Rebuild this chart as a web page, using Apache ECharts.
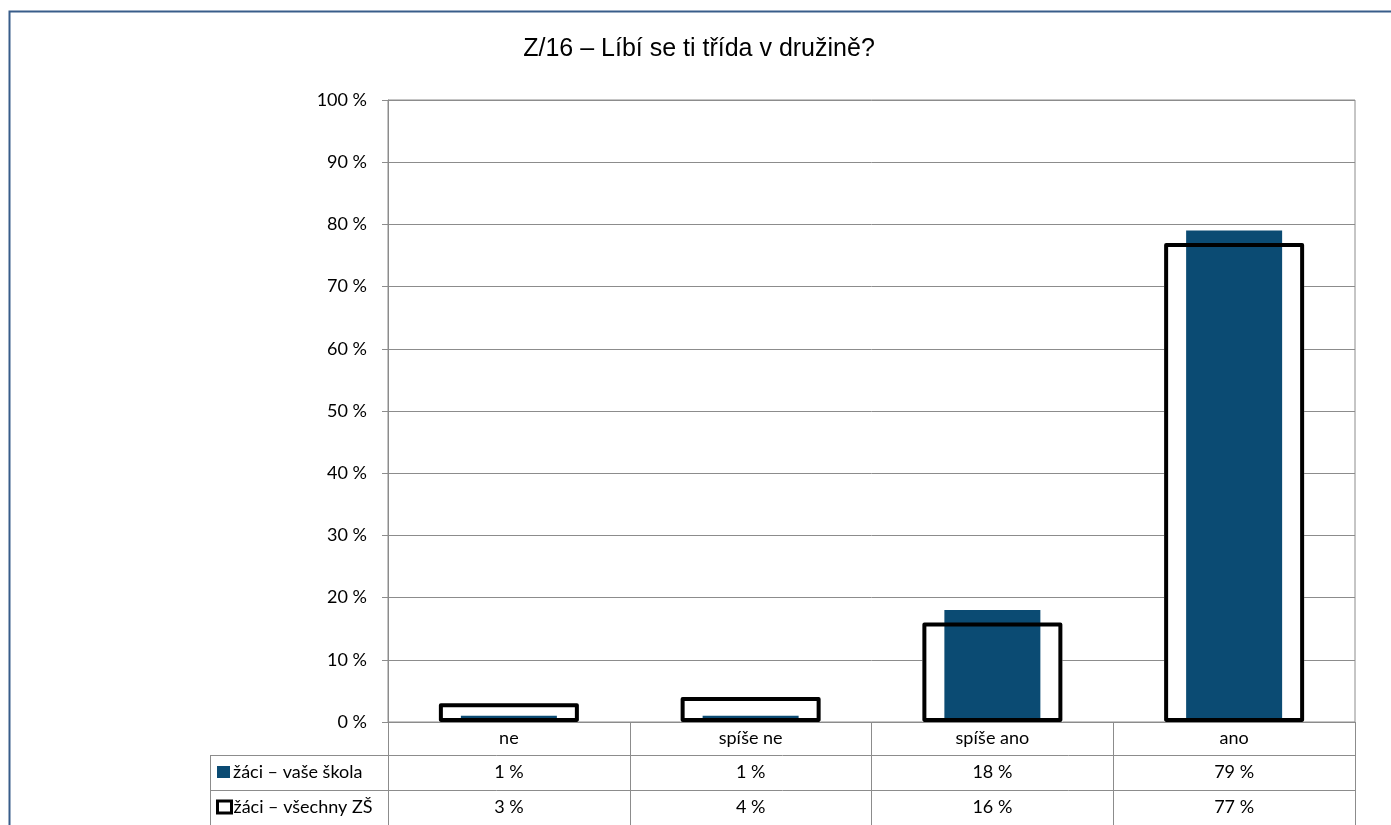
<!DOCTYPE html>
<html>
<head>
<meta charset="utf-8">
<title>Z/16 – Líbí se ti třída v družině?</title>
<script src="https://cdn.jsdelivr.net/npm/echarts@6/dist/echarts.min.js"></script>
<style>
  html, body { margin: 0; padding: 0; background: #fff; }
  #chart { width: 1391px; height: 825px; }
</style>
</head>
<body>
<div id="chart"></div>
<script>
// Survey answers and shares (%)
const categories = ['ne', 'spíše ne', 'spíše ano', 'ano'];
const schoolName = 'žáci – vaše škola';
const allName = 'žáci – všechny ZŠ';
const schoolValues = [1, 1, 18, 79];
const allValues = [3, 4, 16, 77];
const titleText = 'Z/16 – Líbí se ti třída v družině?';

const BLUE = '#0b4b73';
const GRID = '#8c8c8c';
const FONT = 'Lato, "Open Sans", sans-serif';
const FS = 18;

const chart = echarts.init(document.getElementById('chart'), null, { renderer: 'canvas' });

const option = {
  animation: false,
  backgroundColor: '#ffffff',
  title: {
    text: titleText,
    left: 699,
    top: 37,
    textAlign: 'center',
    padding: 0,
    textStyle: { fontFamily: 'Arial, "Liberation Sans", sans-serif', fontSize: 25, fontWeight: 'normal', color: '#000' }
  },
  legend: [
    {
      left: 217, top: 763, padding: 0, itemWidth: 13, itemHeight: 12, itemGap: 0, selectedMode: false,
      textStyle: { fontFamily: FONT, fontSize: FS, color: '#000', padding: [0, 0, 0, -2] },
      data: [{ name: schoolName, icon: 'rect', itemStyle: { color: BLUE, borderWidth: 0 } }]
    },
    {
      left: 216, top: 798, padding: 0, itemWidth: 14, itemHeight: 12, itemGap: 0, selectedMode: false,
      textStyle: { fontFamily: FONT, fontSize: FS, color: '#000', padding: [0, 0, 0, -3] },
      data: [{ name: allName, icon: 'rect', itemStyle: { color: '#fff', borderColor: '#000', borderWidth: 3 } }]
    }
  ],
  grid: {
    left: 388, right: 36, top: 100, bottom: 103,
    show: true, borderColor: GRID, borderWidth: 1, backgroundColor: 'transparent'
  },
  xAxis: [
    {
      type: 'category',
      data: categories,
      axisLine: { lineStyle: { color: GRID, width: 1 } },
      axisTick: { show: true, length: 105, interval: 0, lineStyle: { color: GRID, width: 1 } },
      axisLabel: {
        interval: 0,
        margin: 0,
        formatter: function (value, idx) {
          return '{c|' + value + '}\n{v|' + schoolValues[idx] + ' %}\n{v|' + allValues[idx] + ' %}';
        },
        rich: {
          c: { fontFamily: FONT, fontSize: FS, color: '#000', lineHeight: 33 },
          v: { fontFamily: FONT, fontSize: FS, color: '#000', lineHeight: 35 }
        }
      },
      splitLine: { show: false }
    },
    {
      type: 'category',
      data: categories,
      show: false
    }
  ],
  yAxis: {
    type: 'value',
    min: 0,
    max: 100,
    interval: 10,
    axisLine: { show: true, lineStyle: { color: GRID, width: 1 } },
    axisTick: { show: true, length: 6, lineStyle: { color: GRID } },
    axisLabel: {
      margin: 21,
      formatter: '{value} %',
      fontFamily: FONT, fontSize: FS, color: '#000'
    },
    splitLine: { show: true, lineStyle: { color: GRID, width: 1 } }
  },
  series: [
    {
      // white body of the "all schools" bars, hides gridlines behind them
      name: allName,
      type: 'bar',
      xAxisIndex: 0,
      barWidth: 140,
      barGap: '-100%',
      data: allValues,
      itemStyle: { color: '#ffffff', borderWidth: 0 },
      silent: true
    },
    {
      name: schoolName,
      type: 'bar',
      xAxisIndex: 1,
      barWidth: 96,
      data: schoolValues,
      itemStyle: { color: BLUE }
    },
    {
      // black outline of the "all schools" bars, drawn over the blue bars
      name: allName,
      type: 'bar',
      xAxisIndex: 0,
      barWidth: 140,
      barGap: '-100%',
      data: allValues,
      itemStyle: { color: 'rgba(0,0,0,0)', borderColor: '#000', borderWidth: 4, borderJoin: 'round' },
      silent: true
    }
  ],
  graphic: [
    // outer chart frame
    {
      type: 'rect', silent: true, z: 100,
      shape: { x: 9.5, y: 11.5, width: 1420, height: 900 },
      style: { fill: 'none', stroke: '#385d8a', lineWidth: 2 }
    },
    // data table rules
    {
      type: 'line', silent: true, z: 50,
      shape: { x1: 210, y1: 755.5, x2: 1355, y2: 755.5 },
      style: { stroke: GRID, lineWidth: 1 }
    },
    {
      type: 'line', silent: true, z: 50,
      shape: { x1: 210, y1: 790.5, x2: 1355, y2: 790.5 },
      style: { stroke: GRID, lineWidth: 1 }
    },
    {
      type: 'line', silent: true, z: 50,
      shape: { x1: 210.5, y1: 755, x2: 210.5, y2: 830 },
      style: { stroke: GRID, lineWidth: 1 }
    }
  ]
};

chart.setOption(option);
</script>
</body>
</html>
